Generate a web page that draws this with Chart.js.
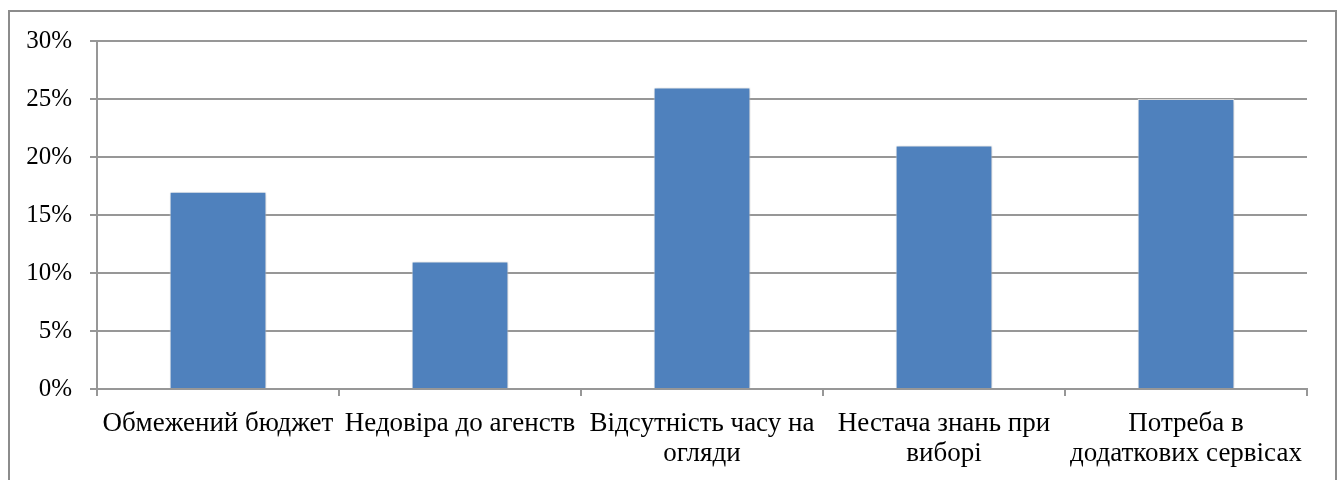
<!DOCTYPE html>
<html>
<head>
<meta charset="utf-8">
<script src="https://cdn.jsdelivr.net/npm/chart.js@4/dist/chart.umd.min.js"></script>
<style>
  html, body { margin: 0; padding: 0; background: #fff; }
  #wrap { position: relative; width: 1343px; height: 480px; }
</style>
</head>
<body>
<div id="wrap"><canvas id="chart" width="1343" height="480"></canvas></div>
<script>
// Reasons for not using an agency (share of respondents, %)
const categories = [
  'Обмежений бюджет',
  'Недовіра до агенств',
  ['Відсутність часу на', 'огляди'],
  ['Нестача знань при', 'виборі'],
  ['Потреба в', 'додаткових сервісах']
];
const shares = [17, 11, 26, 21, 25];
const yTicks = [0, 5, 10, 15, 20, 25, 30];

const GRID = '#979797';
const SERIF = "'Liberation Serif', 'DejaVu Serif', serif";

// Outer frame around the whole chart
const framePlugin = {
  id: 'frame',
  beforeDraw(chart) {
    const ctx = chart.ctx;
    ctx.save();
    ctx.fillStyle = '#fff';
    ctx.fillRect(0, 0, chart.width, chart.height);
    ctx.strokeStyle = '#8c8c8c';
    ctx.lineWidth = 2;
    ctx.strokeRect(9, 11, 1327, 500);
    ctx.restore();
  }
};

// Soft drop shadow beneath the bars
const shadowPlugin = {
  id: 'barShadow',
  beforeDatasetDraw(chart) {
    const ctx = chart.ctx;
    ctx.save();
    ctx.shadowColor = 'rgba(0,0,0,0.22)';
    ctx.shadowBlur = 4;
    ctx.shadowOffsetX = 1;
    ctx.shadowOffsetY = 1;
  },
  afterDatasetDraw(chart) {
    chart.ctx.restore();
  }
};

new Chart(document.getElementById('chart'), {
  type: 'bar',
  data: {
    labels: categories,
    datasets: [{
      data: shares,
      backgroundColor: '#4f81bd',
      borderColor: 'rgba(255,255,255,0.75)',
      borderWidth: 1,
      barPercentage: 0.4,
      categoryPercentage: 1
    }]
  },
  options: {
    responsive: false,
    animation: false,
    events: [],
    layout: { padding: { left: 0, top: 41, right: 36, bottom: 0 } },
    plugins: { legend: { display: false }, tooltip: { enabled: false } },
    scales: {
      x: {
        grid: {
          offset: true,
          drawOnChartArea: false,
          drawTicks: true,
          tickLength: 7,
          color: GRID,
          lineWidth: 2
        },
        border: { color: GRID, width: 2 },
        ticks: {
          color: '#000',
          font: { family: SERIF, size: 27, lineHeight: '30px' },
          padding: 13,
          maxRotation: 0,
          autoSkip: false
        },
        afterFit(scale) { scale.height = 91; }
      },
      y: {
        min: 0,
        max: 30,
        afterBuildTicks(scale) { scale.ticks = yTicks.map(v => ({ value: v })); },
        grid: {
          color: GRID,
          lineWidth: 2,
          drawTicks: true,
          tickLength: 7
        },
        border: { color: GRID, width: 2 },
        ticks: {
          color: '#000',
          font: { family: SERIF, size: 25 },
          padding: 18,
          callback: v => v + '%'
        },
        afterFit(scale) { scale.width = 97; }
      }
    }
  },
  plugins: [framePlugin, shadowPlugin]
});
</script>
</body>
</html>
